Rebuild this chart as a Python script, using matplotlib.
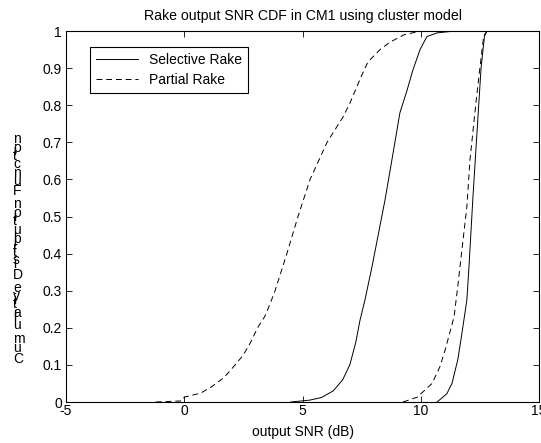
import matplotlib
matplotlib.use('Agg')
import matplotlib.pyplot as plt
from matplotlib.font_manager import FontProperties

plt.rcParams['font.family'] = 'Liberation Sans'
plt.rcParams['font.size'] = 10
plt.rcParams['axes.unicode_minus'] = False

# empirical CDFs of rake output SNR (dB), two configurations each
sel1_snr = [4.5, 5.3, 5.8, 6.3, 6.7, 7.0, 7.25, 7.43, 7.64, 7.94, 8.2, 8.49, 8.8, 9.12, 9.42, 9.67, 9.97, 10.26, 10.7, 11.3, 12.0]
sel1_cdf = [0.0, 0.005, 0.012, 0.03, 0.06, 0.1, 0.16, 0.22, 0.275, 0.365, 0.45, 0.545, 0.66, 0.78, 0.84, 0.895, 0.95, 0.985, 0.995, 0.999, 1.0]

par1_snr = [-1.2, -0.1, 0.0, 0.7, 1.2, 1.7, 2.15, 2.5, 2.8, 3.1, 3.4, 3.6, 3.84, 4.34, 4.81, 5.32, 6.04, 6.71, 7.0, 7.3, 7.5, 7.77, 8.28, 8.7, 9.3, 10.0]
par1_cdf = [0.0, 0.003, 0.013, 0.024, 0.043, 0.067, 0.1, 0.127, 0.16, 0.2, 0.23, 0.26, 0.3, 0.4, 0.5, 0.6, 0.7, 0.768, 0.805, 0.85, 0.88, 0.917, 0.95, 0.97, 0.99, 1.0]

sel2_snr = [10.69, 11.1, 11.32, 11.57, 11.74, 11.95, 12.04, 12.2, 12.46, 12.55, 12.7, 12.8]
sel2_cdf = [0.0, 0.022, 0.05, 0.115, 0.185, 0.275, 0.365, 0.545, 0.81, 0.9, 0.99, 1.0]

par2_snr = [9.25, 9.85, 10.48, 10.81, 11.03, 11.41, 11.58, 11.74, 11.95, 12.08, 12.34, 12.5, 12.65, 12.8]
par2_cdf = [0.0, 0.013, 0.05, 0.095, 0.14, 0.23, 0.32, 0.41, 0.526, 0.652, 0.81, 0.9, 0.98, 1.0]

x_ticks = [-5, 0, 5, 10, 15]
y_ticks = [0, 0.1, 0.2, 0.3, 0.4, 0.5, 0.6, 0.7, 0.8, 0.9, 1]
y_ticklabels = ['0', '0.1', '0.2', '0.3', '0.4', '0.5', '0.6', '0.7', '0.8', '0.9', '1']

W, H = 541, 443
fig = plt.figure(figsize=(W / 100, H / 100), dpi=100)
ax = fig.add_axes([66 / W, (H - 402) / H, (539 - 66) / W, (402 - 31) / H])

lw = 0.7
ax.plot(sel1_snr, sel1_cdf, color='k', lw=lw, label='Selective Rake')
ax.plot(par1_snr, par1_cdf, color='k', lw=lw, ls='--', dashes=(6, 4), label='Partial Rake')
ax.plot(sel2_snr, sel2_cdf, color='k', lw=lw)
ax.plot(par2_snr, par2_cdf, color='k', lw=lw, ls='--', dashes=(6, 4))

ax.set_xlim(-5, 15)
ax.set_ylim(0, 1)
ax.set_xticks(x_ticks)
ax.set_yticks(y_ticks)
ax.set_yticklabels(y_ticklabels)
ax.tick_params(direction='in', top=True, right=True, length=4, width=0.6)
ax.tick_params(axis='x', pad=1.5)
ax.tick_params(axis='y', pad=3)
for s in ax.spines.values():
    s.set_linewidth(0.8)

ax.set_title('Rake output SNR CDF in CM1 using cluster model', fontsize=10.2, pad=8)
ax.set_xlabel('output SNR (dB)', labelpad=5)

leg = ax.legend(loc='upper left', bbox_to_anchor=(24 / 473, (402 - 47) / 371),
                borderaxespad=0, fancybox=False, framealpha=1, edgecolor='k',
                handlelength=3.0, handletextpad=0.8, borderpad=0.45, labelspacing=0.4)
leg.get_frame().set_linewidth(0.8)

# y label: upright characters stacked bottom to top
ylabel = 'Cumulative Distribution Function'
renderer = fig.canvas.get_renderer()
fp = FontProperties(family='Liberation Sans', size=10)


def text_w(s):
    return renderer.get_text_width_height_descent(s, fp, ismath=False)[0]


space_w = text_w('a a') - text_w('aa')
widths = [space_w if ch == ' ' else text_w(ch) for ch in ylabel]
y_start, y_end = 363, 143
total = sum(widths[:-1])
pos = y_start
for ch, w in zip(ylabel, widths):
    if ch != ' ':
        fig.text(13 / W, 1 - pos / H, ch, ha='left', va='baseline', fontproperties=fp)
    pos -= w * (y_start - y_end) / total

fig.savefig('out.png', dpi=100)
